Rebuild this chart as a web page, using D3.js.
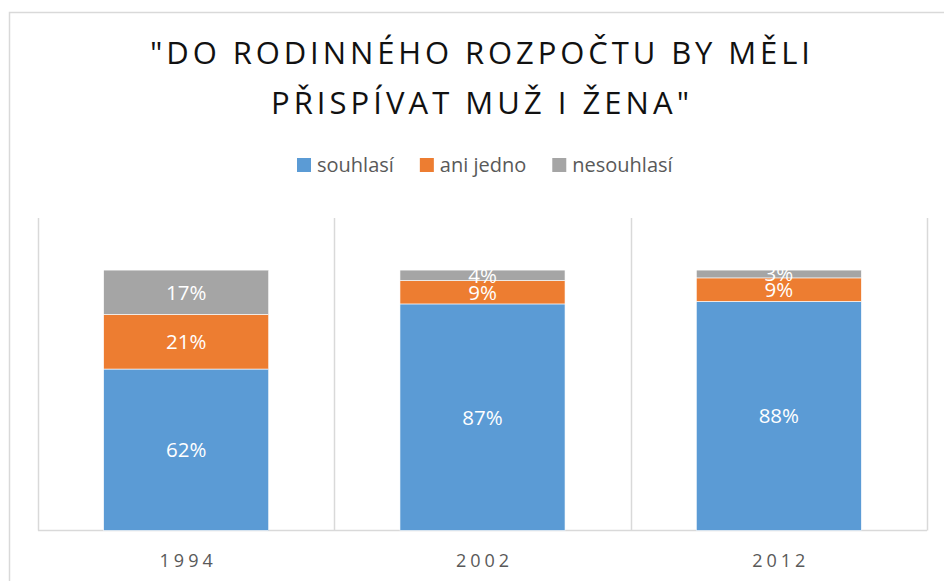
<!DOCTYPE html>
<html>
<head>
<meta charset="utf-8">
<script src="https://cdn.jsdelivr.net/npm/d3@7"></script>
<style>
  body { margin: 0; background: #fff; }
  svg text { font-family: "Open Sans", "Noto Sans", sans-serif; }
</style>
</head>
<body>
<div id="chart"></div>
<script>
const TITLE_LINES = ["\"DO RODINNÉHO ROZPOČTU BY MĚLI", "PŘISPÍVAT MUŽ I ŽENA\""];
const YEARS = ["1994", "2002", "2012"];
const SERIES = ["souhlasí", "ani jedno", "nesouhlasí"];
const SOUHLASI = [0.62, 0.87, 0.88];
const ANI_JEDNO = [0.21, 0.09, 0.09];
const NESOUHLASI = [0.17, 0.04, 0.03];
const COLORS = ["#5B9BD5", "#ED7D31", "#A5A5A5"];

const W = 944, H = 581;
const plot = { left: 38, right: 927, top: 218, bottom: 530.5 };

const svg = d3.select("#chart").append("svg")
    .attr("width", W).attr("height", H);

// chart frame (runs off the right and bottom edges)
svg.append("rect")
    .attr("x", 9.5).attr("y", 12.5)
    .attr("width", W + 20).attr("height", H + 20)
    .attr("fill", "#fff").attr("stroke", "#D9D9D9").attr("stroke-width", 1.5);

// ── Title ──────────────────────────────────────────────────────────────────
const titleWidths = [660, 418];
TITLE_LINES.forEach((t, i) => {
    const txt = svg.append("text")
        .attr("x", 480).attr("y", 64 + i * 50)
        .attr("text-anchor", "middle")
        .attr("font-size", "31px")
        .attr("fill", "#111")
        .text(t);
    const w = txt.node().getComputedTextLength();
    const ls = (titleWidths[i] - w) / (t.length - 1);
    txt.style("letter-spacing", ls + "px")
        .attr("x", 480 + ls / 2);
});

// ── Data ───────────────────────────────────────────────────────────────────
const table = YEARS.map((y, i) => ({
    year: y,
    "souhlasí": SOUHLASI[i],
    "ani jedno": ANI_JEDNO[i],
    "nesouhlasí": NESOUHLASI[i],
}));
const stacked = d3.stack().keys(SERIES)(table);

// ── Scales ─────────────────────────────────────────────────────────────────
const x = d3.scaleBand().domain(YEARS).range([plot.left, plot.right]).padding(0);
const y = d3.scaleLinear().domain([0, 1.2]).range([plot.bottom, plot.top]);
const color = d3.scaleOrdinal().domain(SERIES).range(COLORS);
const barW = x.bandwidth() * 0.557;

// ── Grid (category dividers + baseline) ────────────────────────────────────
const dividers = [...YEARS.map(d => x(d)), plot.right];
svg.append("g").selectAll("line").data(dividers).join("line")
    .attr("x1", d => Math.round(d) + 0.5).attr("x2", d => Math.round(d) + 0.5)
    .attr("y1", plot.top).attr("y2", plot.bottom)
    .attr("stroke", "#D9D9D9").attr("stroke-width", 1.5);

svg.append("line")
    .attr("x1", plot.left).attr("x2", plot.right)
    .attr("y1", plot.bottom).attr("y2", plot.bottom)
    .attr("stroke", "#D9D9D9").attr("stroke-width", 1.5);

// ── Bars ───────────────────────────────────────────────────────────────────
const layers = svg.append("g").selectAll("g").data(stacked).join("g")
    .attr("fill", d => color(d.key));

layers.selectAll("rect").data(d => d).join("rect")
    .attr("x", d => x(d.data.year) + (x.bandwidth() - barW) / 2)
    .attr("width", barW)
    .attr("y", d => y(d[1]))
    .attr("height", d => y(d[0]) - y(d[1]))
    .attr("stroke", "#fff").attr("stroke-width", 0.6);

// data labels (the small 2002/2012 ones overlap, as in the original)
layers.selectAll("text").data(d => d).join("text")
    .attr("x", d => x(d.data.year) + x.bandwidth() / 2)
    .attr("y", d => (y(d[0]) + y(d[1])) / 2)
    .attr("dy", "0.36em")
    .attr("text-anchor", "middle")
    .attr("font-size", "20.5px")
    .attr("fill", "#fff")
    .text(d => Math.round((d[1] - d[0]) * 100) + "%");

// ── Category labels ────────────────────────────────────────────────────────
svg.append("g").selectAll("text").data(YEARS).join("text")
    .attr("x", d => x(d) + x.bandwidth() / 2 + 2)
    .attr("y", 567)
    .attr("text-anchor", "middle")
    .attr("font-size", "18px")
    .attr("fill", "#595959")
    .style("letter-spacing", "4px")
    .text(d => d);

// ── Legend ─────────────────────────────────────────────────────────────────
const legend = svg.append("g");
let lx = 297;
SERIES.forEach(s => {
    legend.append("rect")
        .attr("x", lx).attr("y", 158)
        .attr("width", 14).attr("height", 14)
        .attr("fill", color(s));
    const t = legend.append("text")
        .attr("x", lx + 20).attr("y", 172)
        .attr("font-size", "20px")
        .attr("fill", "#595959")
        .text(s);
    lx += 20 + t.node().getComputedTextLength() + 26;
});
</script>
</body>
</html>
